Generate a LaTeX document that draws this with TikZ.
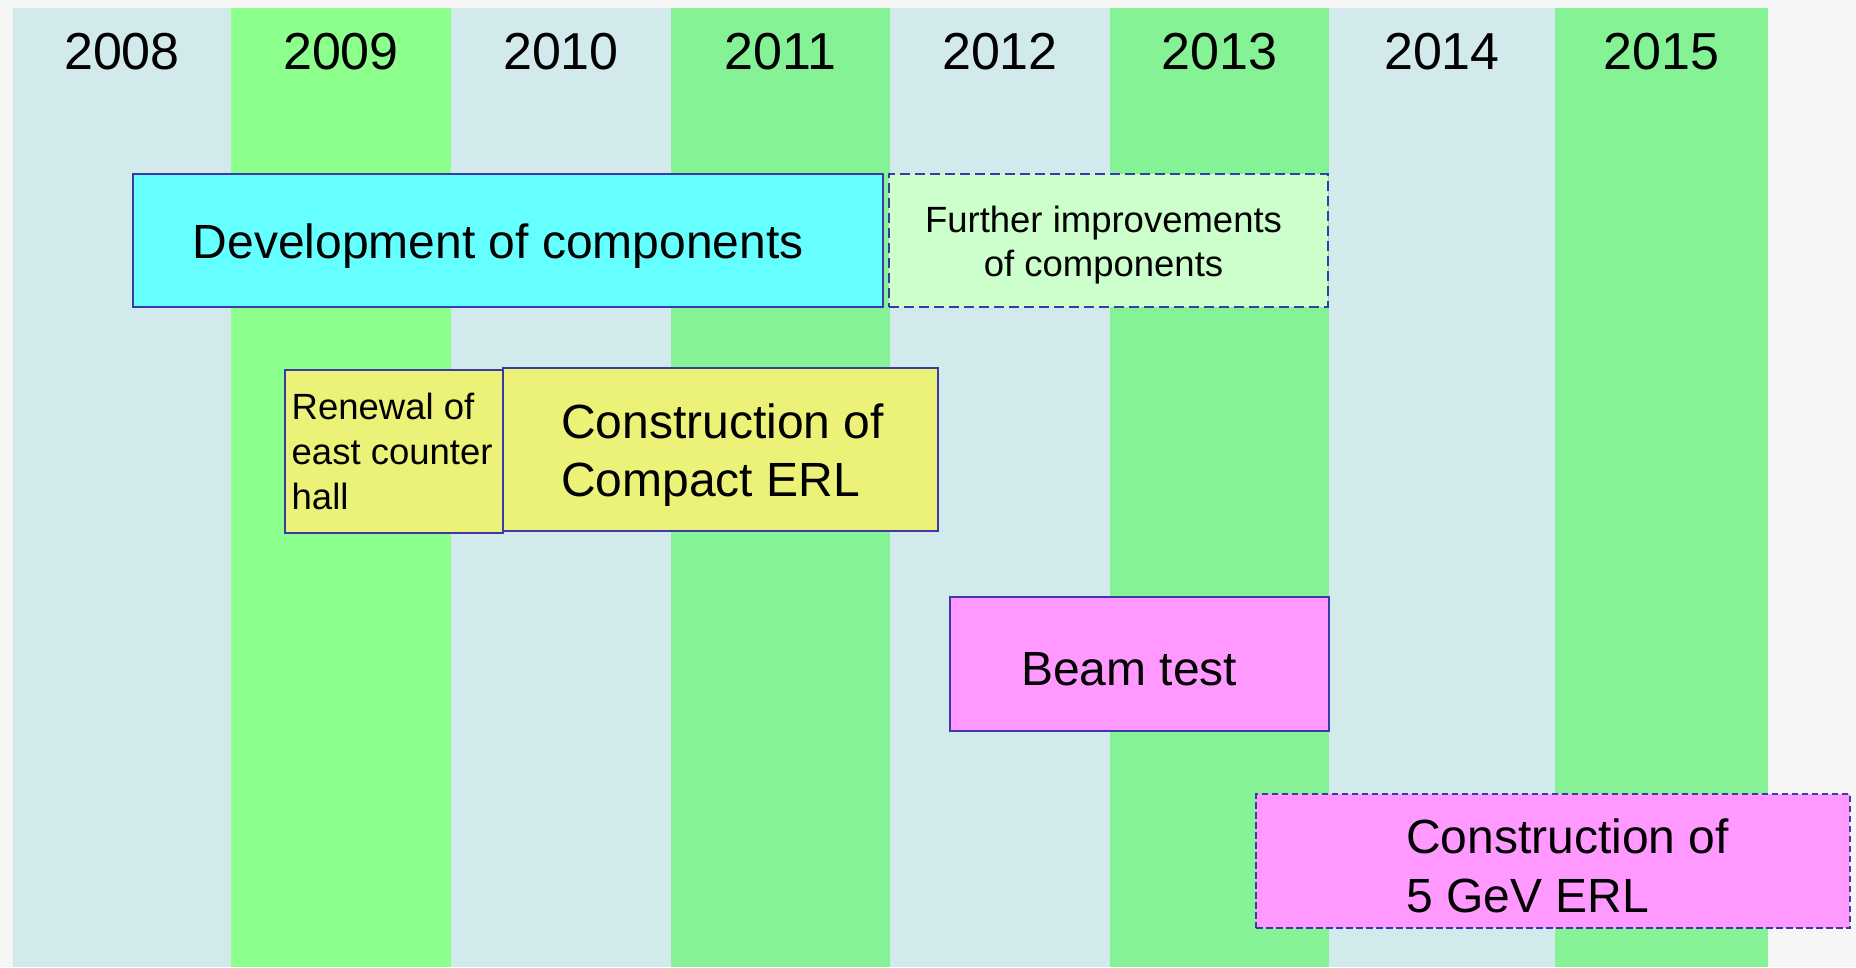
\documentclass[tikz,border=0pt]{standalone}
\usepackage{fontspec}
\setmainfont{Liberation Sans}
\definecolor{pagebg}{RGB}{246,246,246}
\definecolor{colpale}{RGB}{211,234,236}
\definecolor{colgreenA}{RGB}{140,255,140}
\definecolor{colgreenB}{RGB}{133,242,150}
\definecolor{boxline}{RGB}{58,58,168}
\definecolor{devfill}{RGB}{102,255,255}
\definecolor{furtherfill}{RGB}{204,255,204}
\definecolor{yellowfill}{RGB}{235,242,119}
\definecolor{pinkfill}{RGB}{255,153,255}
\begin{document}
\begin{tikzpicture}[x=1pt,y=-1pt,
  taskbox/.style={draw=boxline, line width=1.8pt, rectangle, inner sep=0pt, outer sep=0pt},
  dashbox/.style={taskbox, dash pattern=on 10pt off 5pt},
  finedash/.style={taskbox, line width=1.6pt, dash pattern=on 6.5pt off 3.5pt},
  yearlabel/.style={anchor=base, inner sep=0pt, font=\fontsize{52}{60}\selectfont},
  bigtext/.style={anchor=base west, inner sep=0pt, font=\fontsize{48}{58}\selectfont},
  smalltext/.style={anchor=base west, inner sep=0pt, font=\fontsize{36.5}{45}\selectfont},
  smallcenter/.style={anchor=base, inner sep=0pt, font=\fontsize{36.5}{45}\selectfont}
]
\useasboundingbox (0,0) rectangle (1856,967);
\fill[pagebg] (0,0) rectangle (1856,967);
% year columns
\fill[colpale]    (13,8)   rectangle (231,967);
\fill[colgreenA]  (231,8)  rectangle (451,967);
\fill[colpale]    (451,8)  rectangle (671,967);
\fill[colgreenB]  (671,8)  rectangle (890,967);
\fill[colpale]    (890,8)  rectangle (1110,967);
\fill[colgreenB]  (1110,8) rectangle (1329,967);
\fill[colpale]    (1329,8) rectangle (1555,967);
\fill[colgreenB]  (1555,8) rectangle (1768,967);
% year labels
\node[yearlabel] (y2008) at (122,69) {2008};
\node[yearlabel] (y2009) at (341,69) {2009};
\node[yearlabel] (y2010) at (561,69) {2010};
\node[yearlabel] (y2011) at (780.5,69) {2011};
\node[yearlabel] (y2012) at (1000,69) {2012};
\node[yearlabel] (y2013) at (1219.5,69) {2013};
\node[yearlabel] (y2014) at (1442,69) {2014};
\node[yearlabel] (y2015) at (1661.5,69) {2015};
% task boxes
\node[taskbox, fill=devfill, minimum width=750pt, minimum height=133pt] (dev) at (508,240.5) {};
\node[dashbox, fill=furtherfill, minimum width=439pt, minimum height=133pt] (further) at (1108.5,240.5) {};
\node[taskbox, fill=yellowfill, minimum width=218pt, minimum height=163pt] (renewal) at (394,451.5) {};
\node[taskbox, fill=yellowfill, minimum width=435pt, minimum height=163pt] (compact) at (720.5,449.5) {};
\node[taskbox, fill=pinkfill, minimum width=379pt, minimum height=134pt] (beam) at (1139.5,664) {};
\node[finedash, fill=pinkfill, minimum width=594pt, minimum height=134pt] (gev) at (1553,861) {};
% texts
\node[bigtext] (devt) at (192.5,258) {Development of components};
\node[smallcenter] (furthera) at (1103.5,232) {Further improvements};
\node[smallcenter] (furtherb) at (1103.5,276) {of components};
\node[smalltext] (renewa) at (291.5,419) {Renewal of};
\node[smalltext] (renewb) at (291.5,464) {east counter};
\node[smalltext] (renewc) at (291.5,509) {hall};
\node[bigtext] (compa) at (561,438) {Construction of};
\node[bigtext] (compb) at (561,496) {Compact ERL};
\node[bigtext] (beamt) at (1021,685) {Beam test};
\node[bigtext] (geva) at (1406,853) {Construction of};
\node[bigtext] (gevb) at (1406,912) {5 GeV ERL};
\end{tikzpicture}
\end{document}
